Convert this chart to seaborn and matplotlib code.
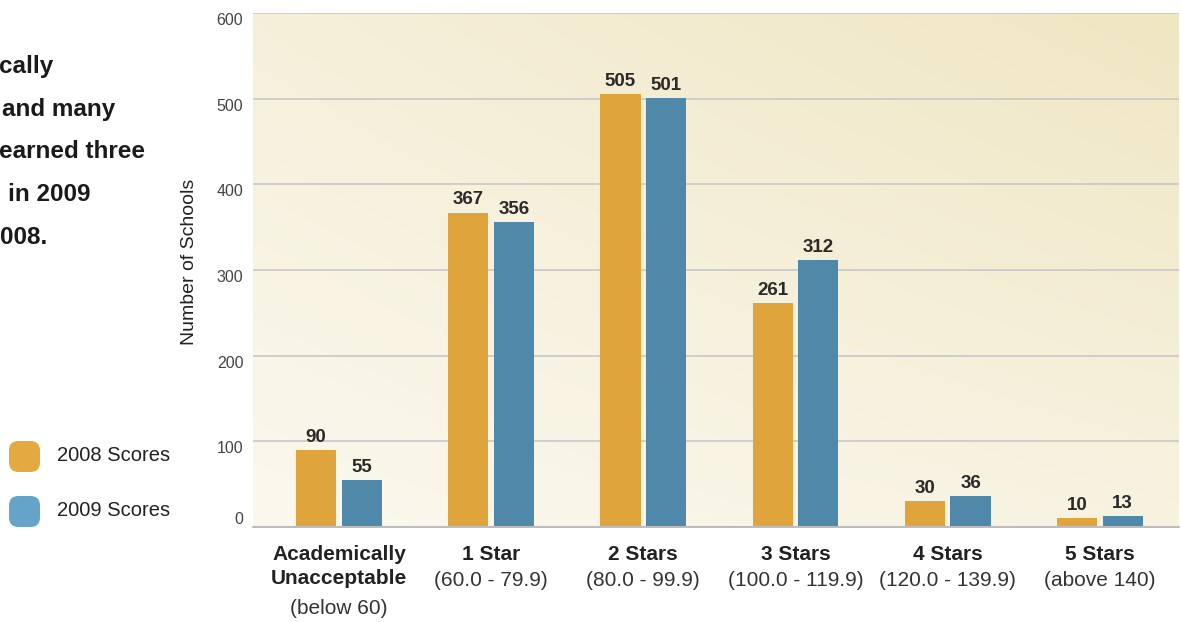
import numpy as np
import pandas as pd
import matplotlib.pyplot as plt
import seaborn as sns
from matplotlib.patches import FancyBboxPatch

categories = ["Academically\nUnacceptable", "1 Star", "2 Stars", "3 Stars", "4 Stars", "5 Stars"]
ranges = ["(below 60)", "(60.0 - 79.9)", "(80.0 - 99.9)", "(100.0 - 119.9)", "(120.0 - 139.9)", "(above 140)"]
scores_2008 = [90, 367, 505, 261, 30, 10]
scores_2009 = [55, 356, 501, 312, 36, 13]
series = ["2008 Scores", "2009 Scores"]
yticks = [0, 100, 200, 300, 400, 500, 600]
intro_lines = ["cally", "and many", "earned three", "in 2009", "008."]

ORANGE = "#E0A43C"
BLUE = "#4F88A8"


def build_frame():
    rows = []
    for cat, a, b in zip(categories, scores_2008, scores_2009):
        rows.append({"cat": cat, "series": series[0], "n": a})
        rows.append({"cat": cat, "series": series[1], "n": b})
    return pd.DataFrame(rows)


def gradient_bg(ax, xlim, ylim):
    xn, yn = np.meshgrid(np.linspace(0, 1, 300), np.linspace(0, 1, 200))
    t = np.clip(0.3 * xn + 0.45 * yn + 0.25 * xn * yn, 0, 1)
    light = np.array([251, 248, 238]) / 255
    dark = np.array([239, 230, 194]) / 255
    img = light + (dark - light) * t[..., None]
    ax.imshow(img, extent=(xlim[0], xlim[1], ylim[0], ylim[1]), origin="lower",
              aspect="auto", zorder=0, interpolation="bicubic")


def main():
    sns.set_theme(style="white")
    plt.rcParams["font.family"] = ["Liberation Sans", "DejaVu Sans"]

    df = build_frame()
    fig = plt.figure(figsize=(11.81, 6.22), dpi=100)
    ax = fig.add_axes([253 / 1181, 95 / 622, 926 / 1181, 514 / 622])

    sns.barplot(data=df, x="cat", y="n", hue="series", palette=[ORANGE, BLUE],
                saturation=1, width=0.6, gap=0.12, ax=ax, zorder=3, legend=False,
                linewidth=0, edgecolor="none")

    xlim = (-0.565, 5.52)
    ylim = (0, 600)
    gradient_bg(ax, xlim, ylim)
    ax.set_xlim(xlim)
    ax.set_ylim(ylim)

    for c in ax.containers:
        ax.bar_label(c, padding=3, fontsize=13.5, fontweight="bold", color="#2a2a2a")

    # grid
    for v in yticks[1:]:
        ax.axhline(v, color="#C8C8C8", lw=1.2, zorder=2)
    ax.axhline(0, color="#BDBDBD", lw=1.5, zorder=4, clip_on=False)
    for s in ax.spines.values():
        s.set_visible(False)

    ax.set_yticks(yticks)
    ax.set_yticklabels([str(v) for v in yticks], fontsize=11.5, color="#444444")
    ax.tick_params(axis="y", length=0, pad=7)
    for lab in ax.get_yticklabels():
        lab.set_va("top")
    ax.get_yticklabels()[0].set_va("bottom")

    ax.set_xticks([])
    ax.set_xlabel("")
    ax.set_ylabel("")

    # category labels
    for i, (cat, rng) in enumerate(zip(categories, ranges)):
        ax.annotate(cat, xy=(i, 0), xycoords=("data", "axes fraction"),
                    xytext=(0, -13), textcoords="offset points", ha="center", va="top",
                    fontsize=15, fontweight="bold", color="#222222", linespacing=1.3)
        off = -52 if "\n" in cat else -32
        ax.annotate(rng, xy=(i, 0), xycoords=("data", "axes fraction"),
                    xytext=(0, off), textcoords="offset points", ha="center", va="top",
                    fontsize=15, color="#333333")

    fig.text(190 / 1181, 1 - 262 / 622, "Number of Schools", rotation=90, ha="center",
             va="center", fontsize=14, color="#222222")

    # clipped intro text on the left
    xs = [-1, 2, -1, 8, 0]
    for k, (line, x0) in enumerate(zip(intro_lines, xs)):
        fig.text(x0 / 1181, 1 - (67 + 42.5 * k) / 622, line, ha="left", va="center",
                 fontsize=17.5, fontweight="bold", color="#1a1a1a")

    # legend
    for k, (name, col) in enumerate(zip(series, ["#E5A942", "#66A3C8"])):
        yc = 456.5 + 55 * k
        fig.patches.append(FancyBboxPatch((9 / 1181, 1 - (yc + 15.5) / 622), 31 / 1181, 31 / 622,
                                          boxstyle="round,pad=0,rounding_size=0.008",
                                          transform=fig.transFigure, facecolor=col,
                                          edgecolor="none", mutation_aspect=1181 / 622))
        fig.text(57 / 1181, 1 - (yc - 1) / 622, name, ha="left", va="center",
                 fontsize=14.5, color="#222222")

    fig.savefig("out.png", dpi=100)


if __name__ == "__main__":
    main()
